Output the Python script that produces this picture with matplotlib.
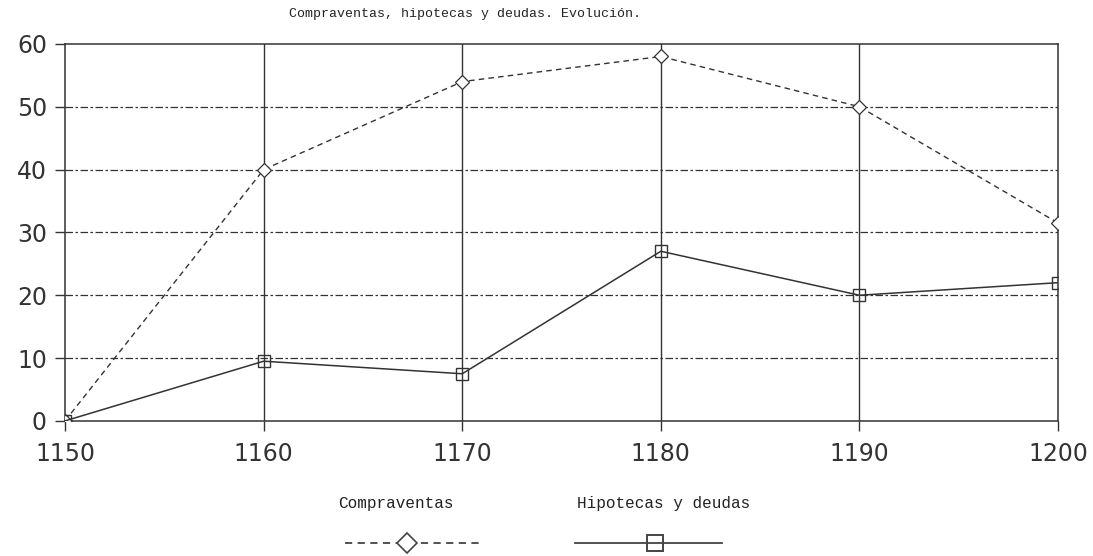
import matplotlib.pyplot as plt
from matplotlib.lines import Line2D

# Datos
years = [1150, 1160, 1170, 1180, 1190, 1200]
compraventas = [0, 40, 54, 58, 50, 31.5]
hipotecas = [0, 9.5, 7.5, 27, 20, 22]
y_ticks = [0, 10, 20, 30, 40, 50, 60]

title = "Compraventas, hipotecas y deudas. Evolución."
mono = "Liberation Mono"

fig = plt.figure(figsize=(10.93, 5.56), dpi=100)
ax = fig.add_axes([0.0595, 0.243, 0.9085, 0.678])

# grid: vertical solid, horizontal dashed
for x in years[1:-1]:
    ax.axvline(x, color='#333333', linewidth=1.0, zorder=1)
for y in y_ticks[1:-1]:
    ax.axhline(y, color='#333333', linewidth=0.9, linestyle=(0, (6, 2, 2, 2)), zorder=1)

ax.plot(years, compraventas, color='#333333', linewidth=1.0, linestyle=(0, (4, 3)),
        marker='D', markersize=7, markerfacecolor='white', markeredgecolor='#333333',
        markeredgewidth=0.9, zorder=3)
ax.plot(years, hipotecas, color='#333333', linewidth=1.1, linestyle='-',
        marker='s', markersize=8, markerfacecolor='none', markeredgecolor='#333333',
        markeredgewidth=1.0, zorder=3)

ax.set_xlim(1150, 1200)
ax.set_ylim(0, 60)
ax.set_xticks(years)
ax.set_yticks(y_ticks)
ax.tick_params(axis='both', labelsize=17, colors='#333333', length=7, width=1.0,
               direction='out', pad=6)
ax.tick_params(axis='x', pad=8)
for s in ax.spines.values():
    s.set_color('#333333')
    s.set_linewidth(1.1)

fig.text(0.4255, 0.975, title, fontsize=9.5, family=mono, ha='center', va='center',
         color='#222222')

# leyenda dibujada a mano bajo el grafico
fig.text(0.3625, 0.095, "Compraventas", fontsize=11.5, family=mono, ha='center',
         va='center', color='#222222')
fig.text(0.6075, 0.095, "Hipotecas y deudas", fontsize=11.5, family=mono, ha='center',
         va='center', color='#222222')
fig.add_artist(Line2D([0.316, 0.441], [0.023, 0.023], color='#444444', linewidth=1.3,
                      linestyle=(0, (4, 3))))
fig.add_artist(Line2D([0.372], [0.023], marker='D', markersize=10, markerfacecolor='white',
                      markeredgecolor='#444444', markeredgewidth=1.2))
fig.add_artist(Line2D([0.526, 0.661], [0.023, 0.023], color='#444444', linewidth=1.3))
fig.add_artist(Line2D([0.599], [0.023], marker='s', markersize=11, markerfacecolor='none',
                      markeredgecolor='#444444', markeredgewidth=1.4))

fig.savefig("out.png", dpi=100)
